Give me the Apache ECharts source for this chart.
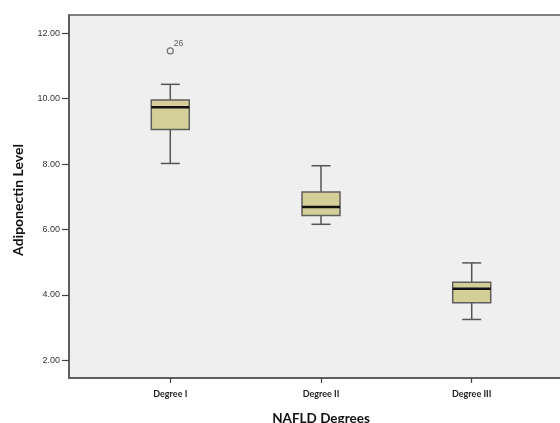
<!DOCTYPE html>
<html><head><meta charset="utf-8">
<script src="https://cdn.jsdelivr.net/npm/echarts@6/dist/echarts.min.js"></script>
<style>html,body{margin:0;padding:0;background:#fff}#c{width:560px;height:423px}</style>
</head><body><div id="c"></div>
<script>
var categories = ['Degree I', 'Degree II', 'Degree III'];
// [low whisker, Q1, median, Q3, high whisker]
var boxStats = [
  [8.02, 9.06, 9.74, 9.96, 10.44],
  [6.16, 6.43, 6.69, 7.15, 7.95],
  [3.25, 3.76, 4.19, 4.39, 4.98]
];
var outliers = [[0, 11.46, '26']];
var yTicks = [2, 4, 6, 8, 10, 12];

var boxData = boxStats.map(function (s, i) { return [i].concat(s); });

var chart = echarts.init(document.getElementById('c'), null, {renderer: 'canvas'});
chart.setOption({
  animation: false,
  backgroundColor: '#ffffff',
  grid: {left: 69, right: -13, top: 15, bottom: 45, show: true, containLabel: false,
         outerBoundsMode: 'none',
         backgroundColor: '#efefef', borderColor: '#5a5a5a', borderWidth: 1.5},
  xAxis: {
    type: 'value', min: -0.672, max: 2.672,
    name: 'NAFLD Degrees', nameLocation: 'middle', nameGap: 34,
    nameTextStyle: {fontFamily: 'Lato', fontWeight: 'bold', fontSize: 13.5, color: '#111'},
    axisLine: {show: true, onZero: false, lineStyle: {color: '#555', width: 1.5}},
    axisTick: {show: true, length: 5, customValues: [0, 1, 2], lineStyle: {color: '#444', width: 1.2}},
    axisLabel: {customValues: [0, 1, 2], margin: 12, fontFamily: 'Lato', fontWeight: 'bold',
                fontSize: 9, color: '#222',
                formatter: function (v) { return categories[Math.round(v)]; }},
    splitLine: {show: false}
  },
  yAxis: {
    type: 'value', min: 1.46, max: 12.56,
    name: 'Adiponectin Level', nameLocation: 'middle', nameGap: 44,
    nameTextStyle: {fontFamily: 'Lato', fontWeight: 'bold', fontSize: 14, color: '#111',
                    padding: [0, 7, 0, 0]},
    axisLine: {show: true, onZero: false, lineStyle: {color: '#555', width: 1.5}},
    axisTick: {show: true, length: 7, customValues: yTicks, lineStyle: {color: '#444', width: 1.2}},
    axisLabel: {customValues: yTicks, margin: 9, fontFamily: 'Liberation Sans', fontSize: 9, color: '#333',
                formatter: function (v) { return v.toFixed(2); }},
    splitLine: {show: false}
  },
  series: [
    {
      type: 'custom',
      data: boxData,
      renderItem: function (params, api) {
        var x = api.value(0);
        var lo = api.coord([x, api.value(1)]);
        var q1 = api.coord([x, api.value(2)]);
        var md = api.coord([x, api.value(3)]);
        var q3 = api.coord([x, api.value(4)]);
        var hi = api.coord([x, api.value(5)]);
        var cx = lo[0], bw = 38, cw = 19;
        var ls = {stroke: '#555', lineWidth: 1.5};
        return {type: 'group', children: [
          {type: 'line', shape: {x1: cx, y1: lo[1], x2: cx, y2: q1[1]}, style: ls},
          {type: 'line', shape: {x1: cx, y1: q3[1], x2: cx, y2: hi[1]}, style: ls},
          {type: 'line', shape: {x1: cx - cw / 2, y1: lo[1], x2: cx + cw / 2, y2: lo[1]}, style: ls},
          {type: 'line', shape: {x1: cx - cw / 2, y1: hi[1], x2: cx + cw / 2, y2: hi[1]}, style: ls},
          {type: 'rect', shape: {x: cx - bw / 2, y: q3[1], width: bw, height: q1[1] - q3[1]},
           style: {fill: '#d4cf98', stroke: '#5e5e5e', lineWidth: 1.5}},
          {type: 'line', shape: {x1: cx - bw / 2, y1: md[1], x2: cx + bw / 2, y2: md[1]},
           style: {stroke: '#111', lineWidth: 2.5}}
        ]};
      }
    },
    {
      type: 'scatter',
      data: outliers.map(function (o) { return {value: [o[0], o[1]], name: o[2]}; }),
      symbol: 'circle', symbolSize: 6,
      itemStyle: {color: 'rgba(0,0,0,0)', borderColor: '#555', borderWidth: 1.2},
      label: {show: true, position: [7, -8], formatter: '{b}', fontFamily: 'Liberation Sans',
              fontSize: 8.5, color: '#333'}
    }
  ]
});
</script></body></html>
